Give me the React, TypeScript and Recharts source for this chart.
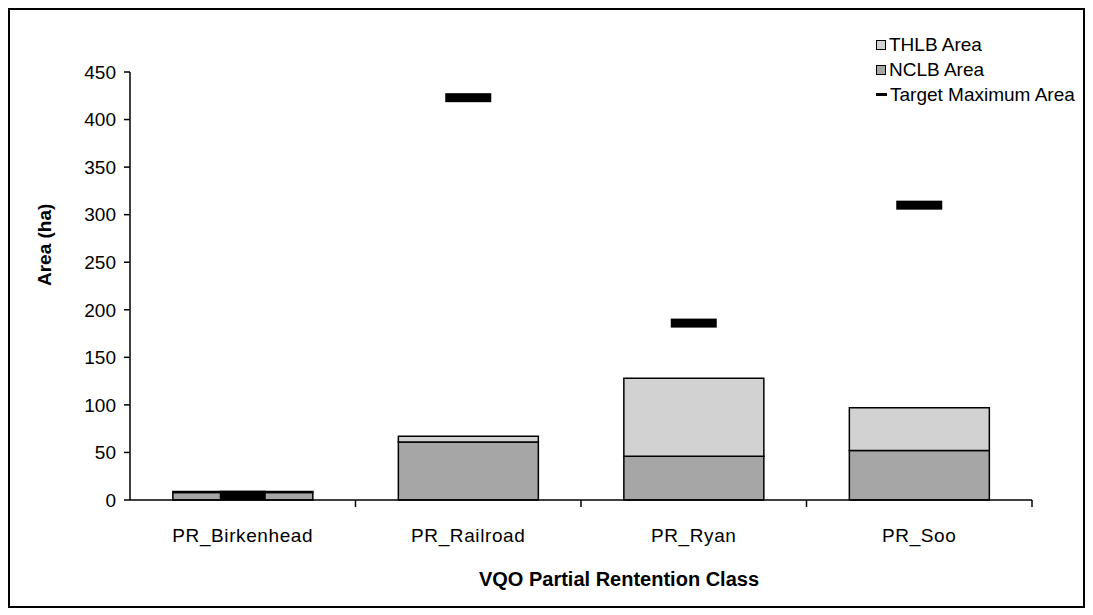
import { ComposedChart, Bar, Line, XAxis, YAxis } from 'recharts';

// VQO partial retention classes
const classes = ['PR_Birkenhead', 'PR_Railroad', 'PR_Ryan', 'PR_Soo'];
const nclbArea = [8, 61, 46, 52];
const thlbArea = [1, 6, 82, 45];
const targetMax = [5, 423, 186, 310];
const yTicks = [0, 50, 100, 150, 200, 250, 300, 350, 400, 450];

const data = classes.map((name, i) => ({
  name,
  nclb: nclbArea[i],
  thlb: thlbArea[i],
  target: targetMax[i],
}));

const FONT = '"Liberation Sans", Arial, sans-serif';
const BAND = 902 / classes.length;

const CategoryTick = (props: any) => {
  const { x, y, payload } = props;
  return (
    <g>
      <line x1={x + BAND / 2} x2={x + BAND / 2} y1={y - 8} y2={y - 1} stroke="#000" strokeWidth={1.5} />
      <text x={x} y={y + 34} textAnchor="middle" fontSize={19} fontFamily={FONT} fill="#000" letterSpacing={0.6}>
        {payload.value}
      </text>
    </g>
  );
};

const TargetMark = (props: any) => {
  const { cx, cy } = props;
  if (cx == null || cy == null) return null;
  return <rect x={cx - 23} y={cy - 4.5} width={46} height={9} fill="#000" />;
};

const LegendBox = () => {
  const row = { display: 'flex', alignItems: 'center', height: 25, fontSize: 19, fontFamily: FONT, color: '#000' } as const;
  const box = (fill: string) => (
    <span style={{ display: 'inline-block', width: 8, height: 8, border: '1.5px solid #000', background: fill, marginRight: 3 }} />
  );
  return (
    <div style={{ position: 'absolute', left: 866, top: 22 }}>
      <div style={row}>{box('#d2d2d2')}THLB Area</div>
      <div style={row}>{box('#a6a6a6')}NCLB Area</div>
      <div style={row}>
        <span style={{ display: 'inline-block', width: 11, height: 3, background: '#000', marginRight: 3 }} />
        Target Maximum Area
      </div>
    </div>
  );
};

export default function App() {
  return (
    <div style={{ width: 1073, height: 596, border: '2px solid #000', background: '#fff', position: 'relative' }}>
      <ComposedChart
        width={1073}
        height={596}
        data={data}
        margin={{ top: 62, right: 51, left: 0, bottom: 0 }}
        barCategoryGap="19%"
      >
        <XAxis
          dataKey="name"
          height={106}
          axisLine={{ stroke: '#000', strokeWidth: 1.5 }}
          tickLine={false}
          tick={<CategoryTick />}
          interval={0}
          label={{ value: 'VQO Partial Rentention Class', position: 'insideBottom', offset: 20, dx: 38, fontSize: 20, fontWeight: 'bold', fontFamily: FONT, fill: '#000' }}
        />
        <YAxis
          width={120}
          domain={[0, 450]}
          ticks={yTicks}
          interval={0}
          axisLine={{ stroke: '#000', strokeWidth: 1.5 }}
          tickLine={{ stroke: '#000', strokeWidth: 1.5 }}
          tickSize={6}
          tickMargin={8}
          tick={{ fontSize: 19, fontFamily: FONT, fill: '#000' }}
          label={{ value: 'Area (ha)', angle: -90, position: 'insideLeft', offset: 34, fontSize: 19, fontWeight: 'bold', fontFamily: FONT, fill: '#000' }}
        />
        <Bar dataKey="nclb" stackId="a" fill="#a6a6a6" stroke="#000" strokeWidth={1.5} isAnimationActive={false} />
        <Bar dataKey="thlb" stackId="a" fill="#d2d2d2" stroke="#000" strokeWidth={1.5} isAnimationActive={false} />
        <Line dataKey="target" stroke="none" dot={<TargetMark />} activeDot={false} legendType="none" isAnimationActive={false} />
      </ComposedChart>
      <LegendBox />
    </div>
  );
}
